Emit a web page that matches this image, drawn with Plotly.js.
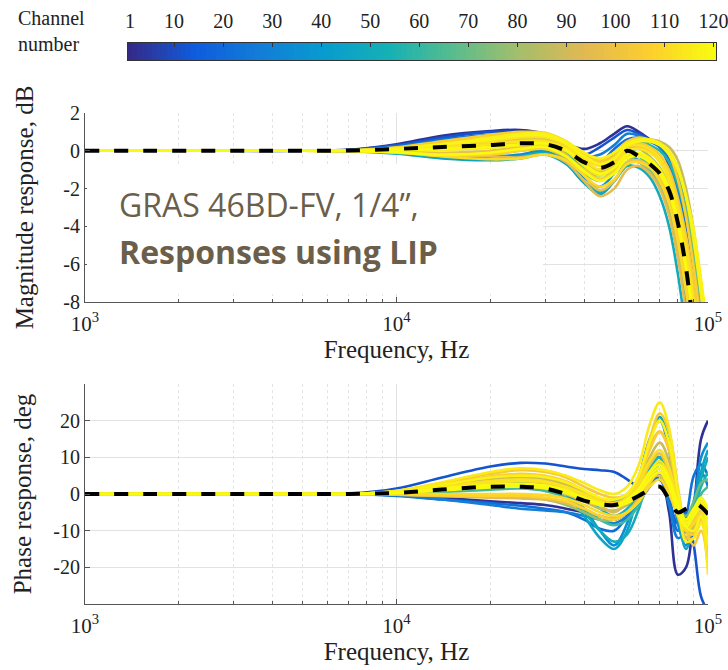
<!DOCTYPE html>
<html>
<head>
<meta charset="utf-8">
<script src="https://cdn.plot.ly/plotly-3.0.1.min.js"></script>
<style>html,body{margin:0;padding:0;background:#fff;}#chart{width:728px;height:670px;}</style>
</head>
<body>
<div id="chart"></div>
<script>
// ---------- DATA ----------
const freqHz = [1000, 3000, 5000, 7000, 10000, 14000, 20000, 25000, 30000, 35000, 40000, 45000, 50000, 55000, 60000, 65000, 70000, 75000, 80000, 85000, 90000, 95000, 100000];

const channels = [3, 12, 22, 28, 35, 45, 50, 55, 62, 70, 78, 85, 88, 92, 95, 98, 101, 104, 106, 108, 110, 112, 113, 115, 117, 118, 119, 120];

// magnitude response, dB (one array per channel)
const magCh3   = [0,0,0,0.05,0.35,0.8,1.05,1.1,0.9,0.4,0.1,0.4,0.9,1.3,1.0,0.6,0.2,-0.8,-2.5,-4.8,-7.5,-10.5,-14];
const magCh12  = [0,0,0,0.04,0.3,0.7,1.0,1.0,0.85,0.3,-0.2,0.2,0.7,1.1,0.9,0.6,0.3,-0.4,-1.8,-4,-6.8,-10,-13];
const magCh22  = [0,0,0,0.03,0.25,0.6,0.85,0.9,0.8,0.3,-0.5,-0.6,0.1,0.6,0.7,0.5,0.2,-0.5,-2,-4.5,-7.5,-11,-14];
const magCh28  = [0,0,0,0.03,0.2,0.55,0.8,0.85,0.7,0.2,-0.3,-0.2,0.3,0.9,0.8,0.5,0.2,-0.6,-2.2,-4.6,-7.6,-11,-14];
const magCh35  = [0,0,0,0,-0.05,-0.2,-0.3,-0.2,0,-0.5,-1.4,-1.9,-1.2,-0.3,-0.5,-0.8,-1.5,-2.8,-4.5,-7,-9.5,-12,-15];
const magCh45  = [0,0,0,-0.02,-0.15,-0.4,-0.5,-0.4,-0.2,-0.7,-1.7,-2.3,-1.6,-0.6,-0.6,-1.0,-1.9,-3.3,-5.5,-8,-11,-14,-16];
const magCh50  = [0,0,0,-0.01,-0.1,-0.3,-0.4,-0.3,-0.1,-0.6,-1.6,-2.2,-1.6,-0.8,-0.9,-1.4,-2.4,-4,-6.5,-9.5,-12,-15,-17];
const magCh55  = [0,0,0,0.02,0.15,0.35,0.5,0.6,0.55,0.2,-0.4,-0.7,-0.2,0.4,0.5,0.3,0,-0.6,-1.8,-3.5,-6,-9,-12];
const magCh62  = [0,0,0,0,0,0.1,0.2,0.3,0.3,-0.1,-0.9,-1.3,-0.8,-0.1,-0.3,-0.8,-1.4,-2.5,-4.2,-6.5,-9,-12,-15];
const magCh70  = [0,0,0,0.01,0.1,0.3,0.6,0.8,0.75,0.2,-0.8,-1.5,-1.0,-0.2,0.2,0.5,0.4,-0.2,-1.3,-3,-5.5,-8.5,-11];
const magCh78  = [0,0,0,0,-0.05,-0.2,-0.2,0,0.1,-0.4,-1.2,-1.6,-1.0,-0.4,-0.6,-1.1,-1.8,-3.0,-5,-7.5,-10,-13,-16];
const magCh85  = [0,0,0,0.01,0.08,0.25,0.45,0.6,0.6,0.2,-0.6,-1.0,-0.5,0.2,0.1,-0.3,-0.9,-1.9,-3.5,-5.8,-8.5,-11,-14];
const magCh88  = [0,0,0,0.01,0.12,0.4,0.7,0.9,0.9,0.5,-0.2,-0.5,-0.2,0.4,0.6,0.6,0.5,0.2,-0.5,-2,-4.2,-7.0,-10];
const magCh92  = [0,0,0,0,0.05,0.15,0.3,0.4,0.4,0,-0.7,-1.1,-0.7,0,-0.2,-0.6,-1.2,-2.3,-4,-6.5,-9,-12,-15];
const magCh95  = [0,0,0,0,-0.03,-0.15,-0.3,-0.35,-0.2,-0.6,-1.6,-2.4,-2.0,-1.0,-0.8,-1.2,-2.0,-3.4,-5.6,-8.5,-11,-14,-16];
const magCh98  = [0,0,0,-0.01,-0.05,-0.1,0,0.2,0.3,-0.2,-1.3,-2.1,-1.6,-0.6,-0.5,-0.8,-1.4,-2.6,-4.5,-7,-9.5,-12.5,-15];
const magCh101 = [0,0,0,0.01,0.08,0.2,0.4,0.55,0.55,0.1,-0.7,-1.2,-0.8,0,0.2,0,-0.5,-1.5,-3.2,-5.6,-8.2,-11,-14];
const magCh104 = [0,0,0,0.02,0.15,0.45,0.75,0.9,0.85,0.4,-0.3,-0.6,-0.3,0.3,0.4,0.2,-0.2,-1.0,-2.5,-4.5,-7,-10,-13];
const magCh106 = [0,0,0,0.02,0.18,0.5,0.85,1.0,0.95,0.5,-0.2,-0.5,-0.1,0.5,0.7,0.6,0.4,-0.2,-1.5,-3.5,-6.2,-9.2,-12];
const magCh108 = [0,0,0,-0.01,-0.1,-0.25,-0.2,0,0.1,-0.3,-1.0,-1.5,-1.1,-0.3,-0.2,-0.6,-1.3,-2.4,-4.2,-6.8,-9.5,-12,-15];
const magCh110 = [0,0,0,-0.01,-0.08,-0.3,-0.45,-0.4,-0.2,-0.5,-1.3,-1.9,-1.5,-0.7,-0.6,-0.9,-1.6,-2.8,-4.8,-7.4,-10,-13,-16];
const magCh112 = [0,0,0,0.01,0.1,0.3,0.5,0.7,0.7,0.3,-0.4,-0.8,-0.5,0.2,0.3,0.1,-0.4,-1.3,-2.9,-5,-7.8,-10.5,-13];
const magCh113 = [0,0,0,0.01,0.06,0.2,0.35,0.5,0.5,0.15,-0.5,-1.0,-0.7,0,0.1,-0.1,-0.6,-1.6,-3.3,-5.7,-8.3,-11,-14];
const magCh115 = [0,0,0,0,0.02,0.05,0.15,0.3,0.35,0,-0.8,-1.3,-0.9,-0.2,-0.2,-0.5,-1.0,-2.0,-3.6,-6,-8.5,-11,-14];
const magCh117 = [0,0,0,0.01,0.1,0.35,0.7,0.9,0.9,0.5,-0.1,-0.4,-0.1,0.4,0.6,0.6,0.4,0,-0.9,-2.4,-4.8,-7.6,-10.5];
const magCh118 = [0,0,0,0.01,0.12,0.35,0.6,0.8,0.8,0.4,-0.3,-0.7,-0.4,0.3,0.5,0.5,0.3,-0.2,-1.0,-2.4,-4.2,-6.8,-9.5];
const magCh119 = [0,0,0,0,0.03,0.1,0.2,0.35,0.4,0.05,-0.7,-1.2,-0.9,-0.2,-0.1,-0.4,-1.0,-2.0,-3.7,-6.2,-8.8,-11.5,-14];
const magCh120 = [0,0,0,-0.01,-0.08,-0.2,-0.1,0.1,0.2,-0.3,-1.1,-1.6,-1.2,-0.4,-0.3,-0.6,-1.2,-2.2,-3.9,-6.2,-9,-12,-15];
const magMean  = [0,0,0,0.02,0.1,0.2,0.3,0.4,0.35,0,-0.6,-0.9,-0.6,0,-0.3,-0.7,-1.2,-2.1,-3.8,-6.2,-9.5,-12.5,-15];

// phase response, deg (one array per channel)
const phCh3   = [0,0,0,0,-0.3,-1.0,-2,-2.5,-3,-4,-5,-6,-7,-5,-2,2,5,-5,-22,-20,-5,15,20];
const phCh12  = [0,0,0,0.1,1.5,4.5,7.5,8.5,8.3,7.5,6.8,6.5,6,4,2,3,5,-2,-8,-5,-14,-28,-32];
const phCh22  = [0,0,0,0,-0.5,-1.5,-2.5,-3.2,-4,-5,-7,-9.5,-10,-6,0,8,10,0,-10,-6,5,8,5];
const phCh28  = [0,0,0,0,-0.4,-1.5,-3,-4,-4.5,-5,-6,-7,-8,-6,-2,3,4,-3,-12,-10,-2,6,2];
const phCh35  = [0,0,0,0,0.2,1,2,2.5,2,0,-4,-10,-14,-8,4,15,20,12,-8,-14,-4,10,14];
const phCh45  = [0,0,0,0,0.3,1.2,2.5,3,2.5,0,-6,-12,-15,-10,2,14,21,14,-5,-15,-8,6,12];
const phCh50  = [0,0,0,0,0.2,0.8,1.5,1.8,1.0,-1,-5,-10,-13,-11,-4,5,9,4,-6,-12,-8,4,10];
const phCh55  = [0,0,0,0,0.4,1.5,3,3.5,3,1.5,-1,-4,-6,-4,1,7,10,5,-3,-8,-4,2,6];
const phCh62  = [0,0,0,0,0.1,0.5,1.2,1.5,0.8,-1,-4,-7,-8.5,-7,-3,3,6,2,-6,-10,-6,0,2];
const phCh70  = [0,0,0,0,0.5,2,3.5,4,3.5,2,0,-2,-2,0,4,9,11,6,-3,-6,-2,3,4];
const phCh78  = [0,0,0,0,-0.2,-0.5,-0.8,-1,-1.5,-3,-5,-7,-7,-5,-1,5,8,3,-6,-12,-8,-2,-6];
const phCh85  = [0,0,0,0,0.2,1,2,2.3,2,0.5,-2,-4,-4.5,-3,0,5,8,4,-4,-9,-6,-3,-10];
const phCh88  = [0,0,0,0,0.6,2.2,4,4.5,4,2.5,0.5,-1.5,-2.5,-1,3,10,14,9,-2,-10,-9,-4,-12];
const phCh92  = [0,0,0,0,0.6,2.5,4.5,5,4.5,3,0.5,-3,-5,-2,5,13,17,12,-2,-12,-10,-5,-15];
const phCh95  = [0,0,0,0,-0.2,-0.6,-1,-1.2,-1.5,-2.5,-4,-6,-6.5,-5,-1,4,7,3,-5,-12,-12,-6,-20];
const phCh98  = [0,0,0,0,0.3,1.2,2,2,1.5,0,-2,-3,-2.5,-1,1.5,4,5,1,-5,-7,-4,-2,-6];
const phCh101 = [0,0,0,0,0.4,1.6,3,3.5,3,1.5,-0.5,-2.5,-3.5,-2,2,8,11,6,-3,-9,-7,-3,-12];
const phCh104 = [0,0,0,0,0.8,3,5.5,6.5,6,4.5,2,0,-1,0,5,15,22,17,2,-10,-14,-10,-20];
const phCh106 = [0,0,0,0,0.7,2.6,4.8,5.5,5,3.5,1,-1.5,-2.5,-1,4,12,17,12,0,-10,-11,-7,-16];
const phCh108 = [0,0,0,0,-0.1,-0.4,-0.5,-0.5,-1,-2,-4,-6,-7,-5,-2,3,6,2,-5,-10,-8,-6,-18];
const phCh110 = [0,0,0,0,0,0,0,0,-0.3,-1.2,-3,-5,-6,-5,-2,2,4,0,-6,-10,-8,-5,-14];
const phCh112 = [0,0,0,0,0.5,2,3.5,4,3.5,2,0,-2,-3,-1,3,9,12,7,-2,-8,-6,-3,-8];
const phCh113 = [0,0,0,0,0.5,1.8,3.2,3.6,3.2,1.8,-0.2,-2,-3,-2,1,6,9,5,-3,-8,-6,-4,-10];
const phCh115 = [0,0,0,0,0.9,3.2,6,7,6.5,5,3,1,0,2,8,19,25,18,0,-13,-12,-8,-22];
const phCh117 = [0,0,0,0,0.7,2.5,4.5,5,4.6,3.2,1,-1,-1.5,0,5,14,20,14,1,-9,-10,-6,-14];
const phCh118 = [0,0,0,0,0.3,1.2,2.2,2.5,2,0.5,-1.5,-3,-3.5,-2,1,5,7,3,-4,-8,-5,-2,-8];
const phCh119 = [0,0,0,0,0.3,1,1.8,2,1.6,0.3,-1.5,-3,-3.5,-2.5,0,4,6,2,-5,-9,-6,-3,-9];
const phCh120 = [0,0,0,0,0.4,1.5,2.5,2.8,2.4,1,-1,-2.5,-3,-1.5,1.5,6,8,4,-3,-7,-4,-1,-4];
const phMean  = [0,0,0,0,0.3,1.2,2.0,2.0,1.5,0,-1.8,-2.8,-3.0,-2.0,-0.5,1.2,2.0,-1.5,-5.0,-4.0,-2.5,-3.5,-5.5];

const magSeries = [magCh3, magCh12, magCh22, magCh28, magCh35, magCh45, magCh50, magCh55, magCh62, magCh70, magCh78, magCh85, magCh88, magCh92, magCh95, magCh98, magCh101, magCh104, magCh106, magCh108, magCh110, magCh112, magCh113, magCh115, magCh117, magCh118, magCh119, magCh120];
const phSeries  = [phCh3, phCh12, phCh22, phCh28, phCh35, phCh45, phCh50, phCh55, phCh62, phCh70, phCh78, phCh85, phCh88, phCh92, phCh95, phCh98, phCh101, phCh104, phCh106, phCh108, phCh110, phCh112, phCh113, phCh115, phCh117, phCh118, phCh119, phCh120];

const channelMin = 1, channelMax = 120;
const colorbarTicks = [1, 10, 20, 30, 40, 50, 60, 70, 80, 90, 100, 110, 120];
const xTickVals = [1000, 10000, 100000];
const xTickText = ['10<sup>3</sup>', '10<sup>4</sup>', '10<sup>5</sup>'];
const xMinorVals = [2000,3000,4000,5000,6000,7000,8000,9000,20000,30000,40000,50000,60000,70000,80000,90000];
const magTicks = [-8, -6, -4, -2, 0, 2];
const magTickText = ['-8', '-6', '-4', '-2', '0', '2'];
const phTicks = [-20, -10, 0, 10, 20];
const phTickText = ['-20', '-10', '0', '10', '20'];

// ---------- STYLE ----------
const parula = [
  [0.000, [53,42,135]], [0.111, [15,92,221]], [0.222, [18,125,216]], [0.333, [7,156,207]],
  [0.444, [21,177,180]], [0.556, [89,189,140]], [0.667, [165,190,107]], [0.778, [225,185,82]],
  [0.889, [252,206,46]], [1.000, [249,251,14]]
];
function parulaColor(ch) {
  const t = (ch - channelMin) / (channelMax - channelMin);
  for (let i = 1; i < parula.length; i++) {
    if (t <= parula[i][0]) {
      const a = parula[i-1], b = parula[i];
      const u = (t - a[0]) / (b[0] - a[0]);
      const c = a[1].map((v, k) => Math.round(v + u * (b[1][k] - v)));
      return 'rgb(' + c.join(',') + ')';
    }
  }
  return 'rgb(249,251,14)';
}
const plotlyScale = parula.map(s => [s[0], 'rgb(' + s[1].join(',') + ')']);

const W = 728, H = 670;
const px = v => v / W, py = v => 1 - v / H;
const serif = 'Liberation Serif';
const txt = '#222';

const traces = [];
channels.forEach((ch, i) => {
  traces.push({x: freqHz, y: magSeries[i], type: 'scatter', mode: 'lines', xaxis: 'x', yaxis: 'y',
    line: {color: parulaColor(ch), width: 2.6, shape: 'spline', smoothing: 1}, hoverinfo: 'skip', showlegend: false});
});
traces.push({x: freqHz, y: magMean, type: 'scatter', mode: 'lines', xaxis: 'x', yaxis: 'y',
  line: {color: '#000', width: 4, dash: '14px,15px', shape: 'spline', smoothing: 1}, showlegend: false});
channels.forEach((ch, i) => {
  traces.push({x: freqHz, y: phSeries[i], type: 'scatter', mode: 'lines', xaxis: 'x2', yaxis: 'y2',
    line: {color: parulaColor(ch), width: 2.6, shape: 'spline', smoothing: 1}, hoverinfo: 'skip', showlegend: false});
});
traces.push({x: freqHz, y: phMean, type: 'scatter', mode: 'lines', xaxis: 'x2', yaxis: 'y2',
  line: {color: '#000', width: 4, dash: '14px,15px', shape: 'spline', smoothing: 1}, showlegend: false});

// colour bar drawn as a one-row heatmap
const cbX = [], cbZ = [];
for (let c = channelMin; c <= channelMax; c++) { cbX.push(c); cbZ.push(c); }
traces.push({type: 'heatmap', x: cbX, y: [0], z: [cbZ], colorscale: plotlyScale, zmin: channelMin, zmax: channelMax,
  showscale: false, xaxis: 'x3', yaxis: 'y3', hoverinfo: 'skip'});

const commonX = {
  type: 'log', range: [3, 5], tickmode: 'array', tickvals: xTickVals, ticktext: xTickText,
  ticks: 'inside', ticklen: 5, tickcolor: '#555', showline: true, linecolor: '#555', linewidth: 1,
  showgrid: true, gridcolor: '#e2e2e2', gridwidth: 1, zeroline: false, ticklabeloverflow: 'allow',
  ticklabelstandoff: 3,
  minor: {tickmode: 'array', tickvals: xMinorVals, ticks: 'inside', ticklen: 3, tickcolor: '#555',
          showgrid: true, gridcolor: '#e4e4e4', griddash: 'dot', gridwidth: 1},
  tickfont: {family: serif, size: 21, color: txt},
  title: {text: 'Frequency, Hz', font: {family: serif, size: 25, color: txt}, standoff: 2}
};
const commonY = {
  ticks: 'inside', ticklen: 5, tickcolor: '#555', showline: true, linecolor: '#555', linewidth: 1,
  showgrid: true, gridcolor: '#e2e2e2', zeroline: false, tickmode: 'array',
  tickfont: {family: serif, size: 20, color: txt}
};

const layout = {
  width: W, height: H, margin: {l: 0, r: 0, t: 0, b: 0},
  paper_bgcolor: '#fff', plot_bgcolor: '#fff', showlegend: false,
  xaxis: Object.assign({}, commonX, {domain: [px(85), px(708)], anchor: 'y'}),
  yaxis: Object.assign({}, commonY, {domain: [py(302), py(113)], range: [-8, 2], tickvals: magTicks, ticktext: magTickText, anchor: 'x',
    title: {text: 'Magnitude response, dB', font: {family: serif, size: 25, color: txt}, standoff: 22}}),
  xaxis2: Object.assign({}, commonX, {domain: [px(85), px(708)], anchor: 'y2'}),
  yaxis2: Object.assign({}, commonY, {domain: [py(604), py(384)], range: [-30, 30], tickvals: phTicks, ticktext: phTickText, anchor: 'x2',
    title: {text: 'Phase response, deg', font: {family: serif, size: 25, color: txt}, standoff: 14}}),
  xaxis3: {domain: [px(127.5), px(716)], range: [0.5, 120.5], side: 'top', anchor: 'y3', tickmode: 'array',
    tickvals: colorbarTicks, ticks: 'inside', ticklen: 4, tickcolor: '#333', showgrid: false, zeroline: false,
    showline: true, mirror: true, linecolor: '#333', linewidth: 1, fixedrange: true,
    ticklabeloverflow: 'allow', ticklabelstandoff: 6,
    tickfont: {family: serif, size: 20, color: txt}},
  yaxis3: {domain: [py(60), py(43)], range: [-0.5, 0.5], anchor: 'x3', showticklabels: false, ticks: '',
    showgrid: false, zeroline: false, showline: true, mirror: true, linecolor: '#333', linewidth: 1, fixedrange: true},
  shapes: [
    {type: 'rect', xref: 'paper', yref: 'paper', x0: px(87), x1: px(543), y0: py(294), y1: py(164),
     fillcolor: '#fff', line: {width: 0}, layer: 'above'}
  ],
  annotations: [
    {xref: 'paper', yref: 'paper', x: px(16), y: py(31), xanchor: 'left', yanchor: 'middle', align: 'left',
     showarrow: false, text: 'Channel<br>number', font: {family: serif, size: 20, color: txt}},
    {xref: 'paper', yref: 'paper', x: px(117), y: py(204), xanchor: 'left', yanchor: 'middle', showarrow: false,
     text: 'GRAS 46BD-FV, 1/4”,', font: {family: 'Open Sans', size: 32, color: '#6b5f4b'}},
    {xref: 'paper', yref: 'paper', x: px(117), y: py(251), xanchor: 'left', yanchor: 'middle', showarrow: false,
     text: '<b>Responses using LIP</b>', font: {family: 'Open Sans', size: 32, color: '#6b5f4b'}}
  ]
};

Plotly.newPlot('chart', traces, layout, {staticPlot: true, displayModeBar: false});
</script>
</body>
</html>
